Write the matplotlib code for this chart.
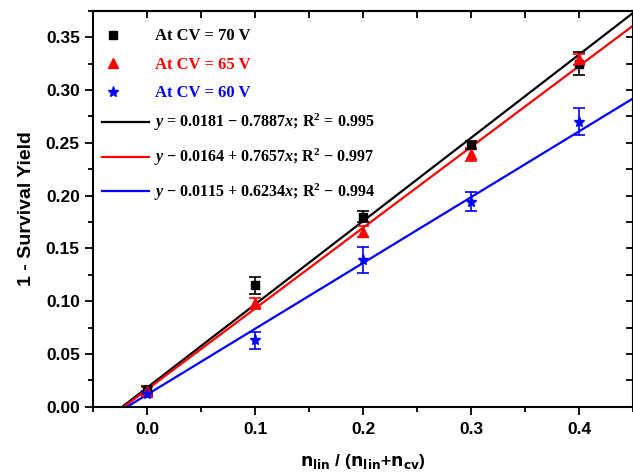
import matplotlib
matplotlib.use("Agg")
import matplotlib.pyplot as plt
import numpy as np
from matplotlib.lines import Line2D

# ---- data ----
x_vals = [0.0, 0.1, 0.2, 0.3, 0.4]
y_70 = [0.016, 0.115, 0.180, 0.248, 0.325]
e_70 = [0.004, 0.008, 0.005, 0.004, 0.011]
y_65 = [0.015, 0.098, 0.166, 0.239, 0.329]
e_65 = [0.004, 0.005, 0.005, 0.006, 0.005]
y_60 = [0.012, 0.063, 0.139, 0.194, 0.270]
e_60 = [0.003, 0.008, 0.012, 0.009, 0.013]

fit_70 = (0.0181, 0.7887)
fit_65 = (0.0164, 0.7657)
fit_60 = (0.0115, 0.6234)

series_labels = ["At CV = 70 V", "At CV = 65 V", "At CV = 60 V"]
fit_labels = [
    r"$\mathit{y}$ = 0.0181 − 0.7887$\mathit{x}$; R$^{2}$ = 0.995",
    r"$\mathit{y}$ − 0.0164 + 0.7657$\mathit{x}$; R$^{2}$ − 0.997",
    r"$\mathit{y}$ − 0.0115 + 0.6234$\mathit{x}$; R$^{2}$ − 0.994",
]
colors = ["#000000", "#FF0000", "#0000FF"]
markers = ["s", "^", "*"]
msizes = [6, 7, 8]

plt.rcParams["mathtext.fontset"] = "custom"
plt.rcParams["mathtext.rm"] = "Liberation Serif:bold"
plt.rcParams["mathtext.it"] = "Liberation Serif:italic:bold"
plt.rcParams["mathtext.bf"] = "Liberation Serif:bold"

fig = plt.figure(figsize=(6.33, 4.73), dpi=100)
ax = fig.add_axes([0.147, 0.140, 0.853, 0.837])

xfit = np.linspace(-0.05, 0.45, 200)

ys = [y_70, y_65, y_60]
es = [e_70, e_65, e_60]
fits = [fit_70, fit_65, fit_60]

for fit, c in zip(fits, colors):
    ax.plot(xfit, fit[0] + fit[1] * xfit, color=c, lw=1.6, zorder=2)

for y, e, c, m, ms in zip(ys, es, colors, markers, msizes):
    ax.errorbar(x_vals, y, yerr=e, fmt=m, color=c, ms=ms, capsize=4.5,
                elinewidth=1.2, capthick=1.2, zorder=3)

ax.set_xlim(-0.05, 0.45)
ax.set_ylim(0, 0.375)
ax.set_xticks([0.0, 0.1, 0.2, 0.3, 0.4])
ax.set_xticks(np.arange(-0.05, 0.451, 0.05), minor=True)
ax.set_yticks(np.arange(0, 0.351, 0.05))
ax.set_yticks(np.arange(0, 0.376, 0.025), minor=True)
ax.set_yticklabels([f"{v:.2f}" for v in np.arange(0, 0.351, 0.05)])
ax.set_xticklabels([f"{v:.1f}" for v in [0.0, 0.1, 0.2, 0.3, 0.4]])

for lab in ax.get_xticklabels() + ax.get_yticklabels():
    lab.set_fontfamily("Liberation Sans")
    lab.set_fontweight("bold")
    lab.set_fontsize(12.5)

ax.tick_params(which="both", direction="out", width=1.3, top=False, right=False)
ax.tick_params(which="major", length=6)
ax.tick_params(which="minor", length=3.5)
ax.tick_params(axis="x", which="both", pad=5)
axt = ax.secondary_xaxis("top")
axt.set_xticks([0.0, 0.1, 0.2, 0.3, 0.4])
axt.set_xticks(np.arange(-0.05, 0.451, 0.05), minor=True)
axt.tick_params(which="both", direction="in", length=5, width=1.3, labeltop=False)
axr = ax.secondary_yaxis("right")
axr.set_yticks(np.arange(0, 0.351, 0.05))
axr.set_yticks(np.arange(0, 0.376, 0.025), minor=True)
axr.tick_params(which="both", direction="in", length=5, width=1.3, labelright=False)
for sp in list(ax.spines.values()) + list(axt.spines.values()) + list(axr.spines.values()):
    sp.set_linewidth(1.5)

ax.set_ylabel("1 - Survival Yield", fontfamily="Liberation Sans", fontweight="bold",
              fontsize=14, labelpad=8)
ax.set_xlabel(r"$\mathbf{n}_{\mathbf{lin}}$ / ($\mathbf{n}_{\mathbf{lin}}$+$\mathbf{n}_{\mathbf{cv}}$)",
              fontfamily="Liberation Sans", fontweight="bold", fontsize=12.5,
              math_fontfamily="dejavusans", labelpad=11)

# legends
h1 = [Line2D([], [], ls="none", marker=m, color=c, ms=ms)
      for c, m, ms in zip(colors, markers, msizes)]
leg1 = ax.legend(h1, series_labels, loc="upper left", bbox_to_anchor=(0.0, 0.985),
                 frameon=False, prop={"family": "Liberation Serif", "weight": "bold", "size": 12},
                 labelcolor=colors, handlelength=1.0, handletextpad=2.0,
                 labelspacing=0.75, borderaxespad=0.3)
ax.add_artist(leg1)
h2 = [Line2D([], [], color=c, lw=1.6) for c in colors]
leg2 = ax.legend(h2, fit_labels, loc="upper left", bbox_to_anchor=(-0.005, 0.773),
                 frameon=False, prop={"family": "Liberation Serif", "weight": "bold", "size": 11.5},
                 handlelength=3.0, handletextpad=0.3, labelspacing=0.85, borderaxespad=0.3)

fig.savefig("out.png", dpi=100)
